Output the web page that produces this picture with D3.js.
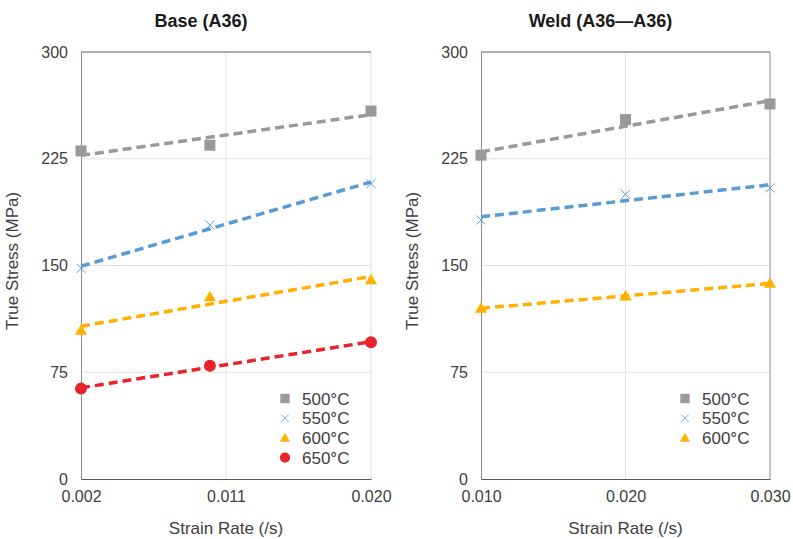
<!DOCTYPE html>
<html>
<head>
<meta charset="utf-8">
<script src="https://cdn.jsdelivr.net/npm/d3@7"></script>
<style>
  body { margin: 0; background: #fff; }
  svg text { font-family: "Liberation Sans", Arial, sans-serif; }
</style>
</head>
<body>
<div id="chart"></div>
<script>
// ---- data ----
const baseRates = [0.002, 0.010, 0.020];
const base500 = [230.5, 234.5, 258.5];
const base550 = [148, 178.5, 207.5];
const base600 = [104.5, 128, 140];
const base650 = [63.5, 79.5, 96];

const weldRates = [0.010, 0.020, 0.030];
const weld500 = [227.5, 252.5, 263.5];
const weld550 = [182, 200, 204.5];
const weld600 = [120, 128.5, 137.5];

const baseTicks = [0.002, 0.011, 0.020];
const weldTicks = [0.010, 0.020, 0.030];
const stressTicks = [0, 75, 150, 225, 300];

const seriesNames = ["500°C", "550°C", "600°C", "650°C"];
const seriesColors = ["#999999", "#5b9bd5", "#ffb000", "#e8232a"];
const seriesShapes = ["square", "cross", "triangle", "circle"];

const width = 793, height = 539;
const svg = d3.select("#chart").append("svg")
  .attr("width", width).attr("height", height);

// least squares trendline, like the spreadsheet's linear trendline
function fit(xs, ys) {
  const mx = d3.mean(xs), my = d3.mean(ys);
  let sxy = 0, sxx = 0;
  xs.forEach((x, i) => { sxy += (x - mx) * (ys[i] - my); sxx += (x - mx) * (x - mx); });
  const b = sxy / sxx;
  return x => my + b * (x - mx);
}

function drawMarker(g, shape, color, x, y) {
  if (shape == "square") {
    g.append("rect").attr("x", x - 5.5).attr("y", y - 5.5).attr("width", 11).attr("height", 11).attr("fill", color);
  } else if (shape == "cross") {
    g.append("path").attr("d", `M${x-4.5},${y-4.5}L${x+4.5},${y+4.5}M${x-4.5},${y+4.5}L${x+4.5},${y-4.5}`)
      .attr("stroke", color).attr("stroke-width", 1).attr("fill", "none");
  } else if (shape == "triangle") {
    g.append("path").attr("d", d3.symbol(d3.symbolTriangle, 64)()).attr("transform", `translate(${x},${y+1})`).attr("fill", color);
  } else {
    g.append("circle").attr("cx", x).attr("cy", y).attr("r", 6).attr("fill", color);
  }
}

function panel(opts) {
  const { left, right, top, bottom, title, rates, series, ticks, rightEdge } = opts;
  const x = d3.scaleLinear().domain([ticks[0], ticks[ticks.length - 1]]).range([left, right]);
  const y = d3.scaleLinear().domain([0, 300]).range([bottom, top]);
  const g = svg.append("g");

  // horizontal gridlines
  g.append("g").selectAll("line").data(stressTicks.slice(1)).join("line")
    .attr("x1", left).attr("x2", right)
    .attr("y1", d => y(d)).attr("y2", d => y(d))
    .attr("stroke", "#e3e3e3").attr("stroke-width", 1);
  // vertical gridlines
  g.append("g").selectAll("line").data(ticks.slice(1)).join("line")
    .attr("x1", d => x(d)).attr("x2", d => x(d))
    .attr("y1", top).attr("y2", bottom)
    .attr("stroke", (d, i) => i == ticks.length - 2 ? rightEdge : "#e3e3e3").attr("stroke-width", 1);
  // top border
  g.append("line").attr("x1", left).attr("x2", right).attr("y1", top).attr("y2", top)
    .attr("stroke", "#6b6b6b").attr("stroke-width", 1);

  // axes
  const yAxis = g.append("g").attr("transform", `translate(${left},0)`)
    .call(d3.axisLeft(y).tickValues(stressTicks).tickSize(0).tickPadding(13));
  yAxis.select(".domain").attr("stroke", "#8c8c8c");
  yAxis.selectAll("text").attr("font-size", 16).attr("fill", "#404040");

  const xAxis = g.append("g").attr("transform", `translate(0,${bottom})`)
    .call(d3.axisBottom(x).tickValues(ticks).tickSize(0).tickPadding(12).tickFormat(d3.format(".3f")));
  xAxis.select(".domain").attr("stroke", "#595959");
  xAxis.selectAll("text").attr("font-size", 16).attr("fill", "#404040");

  // trendlines
  series.forEach((s, k) => {
    const f = fit(rates, s);
    g.append("line")
      .attr("x1", x(rates[0])).attr("y1", y(f(rates[0])))
      .attr("x2", x(rates[rates.length - 1])).attr("y2", y(f(rates[rates.length - 1])))
      .attr("stroke", seriesColors[k]).attr("stroke-width", 3.5)
      .attr("stroke-dasharray", "9,5");
  });
  // markers
  series.forEach((s, k) => {
    s.forEach((v, i) => drawMarker(g, seriesShapes[k], seriesColors[k], x(rates[i]), y(v)));
  });

  // legend
  const lg = g.append("g").attr("transform", `translate(${left + 204},398.5)`);
  series.forEach((s, k) => {
    const row = lg.append("g").attr("transform", `translate(0,${k * 19.7})`);
    const mg = row.append("g").attr("transform", "scale(0.85)");
    drawMarker(mg, seriesShapes[k], seriesColors[k], 0, 0);
    row.append("text").attr("x", 17).attr("y", 6).attr("font-size", 17).attr("fill", "#404040")
      .text(seriesNames[k]);
  });

  // titles
  g.append("text").attr("x", (left + right) / 2 - 25).attr("y", 26.5)
    .attr("text-anchor", "middle").attr("font-size", 18).attr("font-weight", "bold").attr("fill", "#1a1a1a")
    .text(title);
  g.append("text").attr("x", (left + right) / 2).attr("y", 534)
    .attr("text-anchor", "middle").attr("font-size", 17).attr("fill", "#404040")
    .text("Strain Rate (/s)");
  g.append("text").attr("transform", `translate(${left - 63},261) rotate(-90)`)
    .attr("text-anchor", "middle").attr("font-size", 17).attr("fill", "#404040")
    .text("True Stress (MPa)");
}

panel({ left: 81, right: 371, top: 52, bottom: 479, title: "Base (A36)",
  rates: baseRates, series: [base500, base550, base600, base650], ticks: baseTicks, rightEdge: "#dcdcdc" });
panel({ left: 481, right: 770, top: 52, bottom: 479, title: "Weld (A36—A36)",
  rates: weldRates, series: [weld500, weld550, weld600], ticks: weldTicks, rightEdge: "#8c8c8c" });
</script>
</body>
</html>
